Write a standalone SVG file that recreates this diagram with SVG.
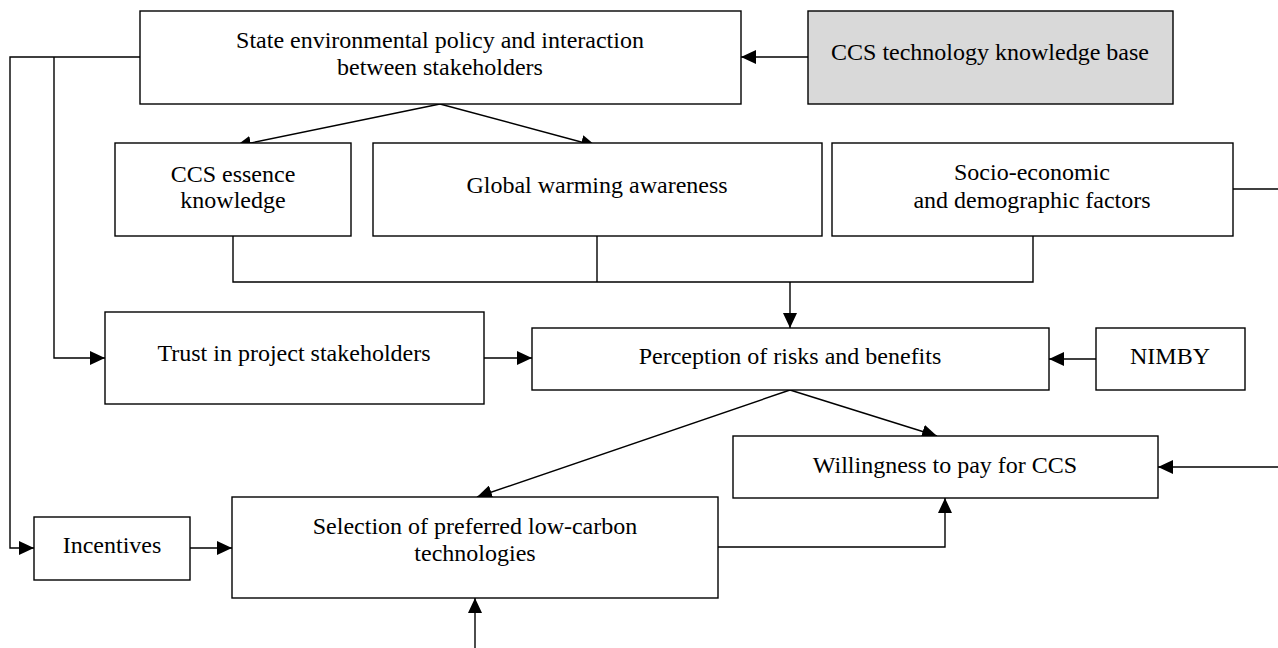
<svg xmlns="http://www.w3.org/2000/svg" width="1278" height="648" viewBox="0 0 1278 648">
<style>
.box{fill:#fff;stroke:#000;stroke-width:1.4}
.grey{fill:#d9d9d9}
.t{font-family:"Liberation Serif","Times New Roman",serif;font-size:24px;fill:#000;text-anchor:middle}
.c{fill:none;stroke:#000;stroke-width:1.4}
</style>
<defs>
<marker id="ah" viewBox="0 0 15 14" refX="15" refY="7" markerWidth="15" markerHeight="14" markerUnits="userSpaceOnUse" orient="auto">
<path d="M0,0 L15,7 L0,14 z" fill="#000"/>
</marker>
</defs>
<rect width="1278" height="648" fill="#fff"/>
<g id="connectors">
<line class="c" x1="808" y1="57" x2="741" y2="57" marker-end="url(#ah)"/>
<line class="c" x1="440" y1="104" x2="236" y2="146" marker-end="url(#ah)"/>
<line class="c" x1="440" y1="104" x2="596" y2="146" marker-end="url(#ah)"/>
<polyline class="c" points="140,57 10,57 10,548 34,548" marker-end="url(#ah)"/>
<polyline class="c" points="54,57 54,358 105,358" marker-end="url(#ah)"/>
<polyline class="c" points="233,236 233,282 1033,282 1033,236"/>
<line class="c" x1="597" y1="236" x2="597" y2="282"/>
<line class="c" x1="790" y1="282" x2="790" y2="328" marker-end="url(#ah)"/>
<line class="c" x1="484" y1="358" x2="532" y2="358" marker-end="url(#ah)"/>
<line class="c" x1="1096" y1="359" x2="1049" y2="359" marker-end="url(#ah)"/>
<line class="c" x1="790" y1="390" x2="477" y2="497" marker-end="url(#ah)"/>
<line class="c" x1="790" y1="390" x2="937" y2="436" marker-end="url(#ah)"/>
<line class="c" x1="1278" y1="467" x2="1158" y2="467" marker-end="url(#ah)"/>
<polyline class="c" points="718,547 945,547 945,498" marker-end="url(#ah)"/>
<line class="c" x1="190" y1="548" x2="232" y2="548" marker-end="url(#ah)"/>
<line class="c" x1="475" y1="648" x2="475" y2="598" marker-end="url(#ah)"/>
<line class="c" x1="1233" y1="189" x2="1278" y2="189"/>
</g>
<g id="state">
<rect class="box" x="140" y="11" width="601" height="93"/>
<text class="t" x="440" y="48">State environmental policy and interaction</text>
<text class="t" x="440" y="75">between stakeholders</text>
</g>
<g id="ccs-base">
<rect class="box grey" x="808" y="11" width="365" height="93"/>
<text class="t" x="990" y="60">CCS technology knowledge base</text>
</g>
<g id="ccs-essence">
<rect class="box" x="115" y="143" width="236" height="93"/>
<text class="t" x="233" y="182">CCS essence</text>
<text class="t" x="233" y="208">knowledge</text>
</g>
<g id="global-warming">
<rect class="box" x="373" y="143" width="449" height="93"/>
<text class="t" x="597" y="193">Global warming awareness</text>
</g>
<g id="socio">
<rect class="box" x="832" y="143" width="401" height="93"/>
<text class="t" x="1032" y="180">Socio-economic</text>
<text class="t" x="1032" y="208">and demographic factors</text>
</g>
<g id="trust">
<rect class="box" x="105" y="312" width="379" height="92"/>
<text class="t" x="294" y="361">Trust in project stakeholders</text>
</g>
<g id="perception">
<rect class="box" x="532" y="328" width="517" height="62"/>
<text class="t" x="790" y="364">Perception of risks and benefits</text>
</g>
<g id="nimby">
<rect class="box" x="1096" y="328" width="149" height="62"/>
<text class="t" x="1170" y="364">NIMBY</text>
</g>
<g id="willingness">
<rect class="box" x="733" y="436" width="425" height="62"/>
<text class="t" x="945" y="473">Willingness to pay for CCS</text>
</g>
<g id="selection">
<rect class="box" x="232" y="497" width="486" height="101"/>
<text class="t" x="475" y="534">Selection of preferred low-carbon</text>
<text class="t" x="475" y="561">technologies</text>
</g>
<g id="incentives">
<rect class="box" x="34" y="517" width="156" height="63"/>
<text class="t" x="112" y="553">Incentives</text>
</g>
</svg>
